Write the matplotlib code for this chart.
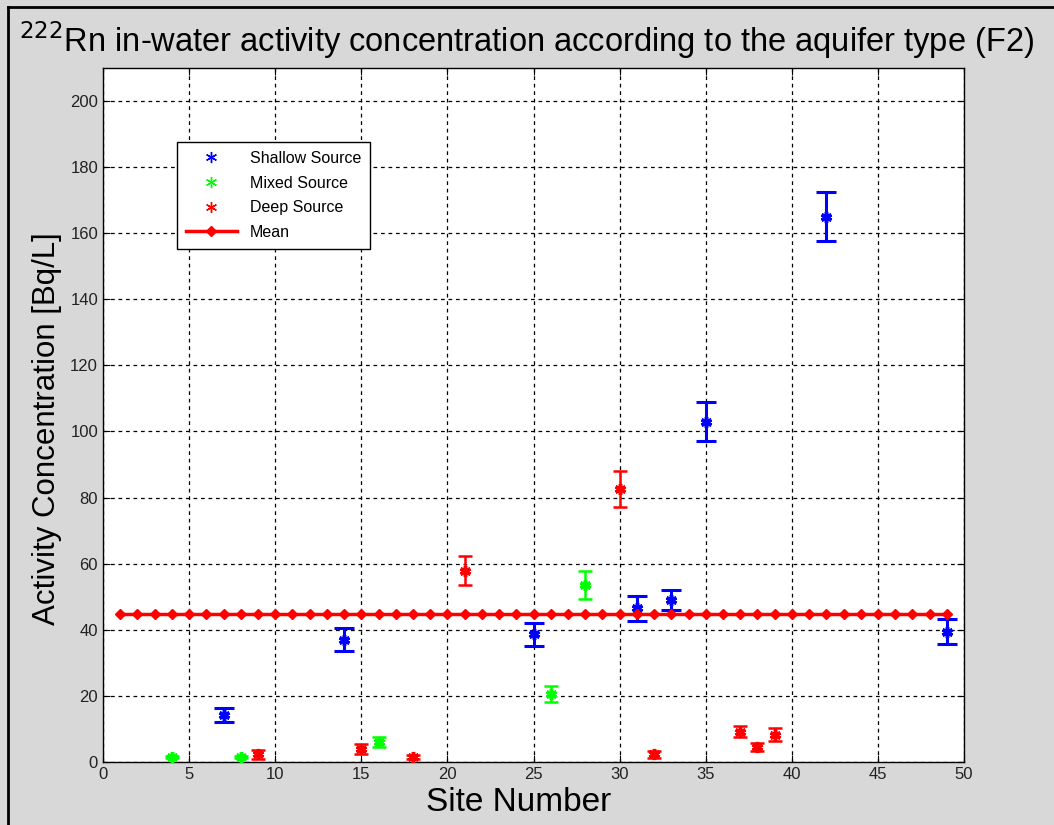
import matplotlib.pyplot as plt
import numpy as np
from matplotlib.lines import Line2D

plt.rcParams['font.family'] = ['Liberation Sans', 'DejaVu Sans']

# Shallow source sites
shallow_x = [7, 14, 25, 31, 33, 35, 42, 49]
shallow_y = [14.2, 37.0, 38.7, 46.5, 49.0, 103.0, 165.0, 39.4]
shallow_err = [2.2, 3.5, 3.5, 3.8, 3.0, 6.0, 7.5, 3.8]

# Mixed source sites
mixed_x = [4, 8, 16, 26, 28]
mixed_y = [1.5, 1.5, 6.0, 20.6, 53.6]
mixed_err = [0.4, 0.4, 1.6, 2.5, 4.2]

# Deep source sites
deep_x = [9, 15, 18, 21, 30, 32, 37, 38, 39]
deep_y = [2.3, 3.9, 1.4, 57.9, 82.6, 2.3, 9.2, 4.6, 8.2]
deep_err = [1.3, 1.4, 0.6, 4.5, 5.3, 1.0, 1.7, 1.2, 2.0]

mean_value = 44.8
mean_sites = list(range(1, 50))

bg = '#d8d8d8'
asterisk = (6, 2, 0)

fig = plt.figure(figsize=(10.54, 8.25), dpi=100, facecolor=bg)
ax = fig.add_axes([0.0977, 0.0764, 0.8170, 0.8412])

ax.errorbar(shallow_x, shallow_y, yerr=shallow_err, fmt='none', ecolor='blue',
            elinewidth=2.2, capsize=7, capthick=2.2, zorder=3)
ax.plot(shallow_x, shallow_y, linestyle='none', marker=asterisk, color='blue',
        markersize=8, markeredgewidth=2.5, zorder=4)

ax.errorbar(mixed_x, mixed_y, yerr=mixed_err, fmt='none', ecolor='#00ff00',
            elinewidth=1.8, capsize=5, capthick=1.8, zorder=3)
ax.plot(mixed_x, mixed_y, linestyle='none', marker=asterisk, color='#00ff00',
        markersize=8, markeredgewidth=2.5, zorder=4)

ax.errorbar(deep_x, deep_y, yerr=deep_err, fmt='none', ecolor='red',
            elinewidth=1.8, capsize=5, capthick=1.8, zorder=3)
ax.plot(deep_x, deep_y, linestyle='none', marker=asterisk, color='red',
        markersize=8, markeredgewidth=2.5, zorder=4)

ax.plot(mean_sites, [mean_value] * len(mean_sites), color='red', linewidth=2.5,
        marker='D', markersize=5.5, zorder=5)

ax.set_xlim(0, 50)
ax.set_ylim(0, 210)
ax.set_xticks(np.arange(0, 51, 5))
ax.set_yticks(np.arange(0, 201, 20))
ax.grid(True, color='black', linestyle=(0, (3, 3)), linewidth=0.9)
ax.set_axisbelow(True)
ax.tick_params(direction='in', top=True, right=True, labelsize=12, length=5,
               labelcolor='#222222')
for s in ax.spines.values():
    s.set_linewidth(1.0)

ax.set_xlabel('Site Number', fontsize=24)
ax.set_ylabel('Activity Concentration [Bq/L]', fontsize=22.5)
ax.xaxis.set_label_coords(0.4826, -0.036, transform=ax.transAxes)
ax.yaxis.set_label_coords(-0.048, 0.4805, transform=ax.transAxes)

fig.text(0.5, 0.951, r'$^{222}$Rn in-water activity concentration according to the aquifer type (F2)',
         ha='center', va='center', fontsize=23.5)

handles = [
    Line2D([], [], linestyle='none', marker=asterisk, color='blue', markersize=8),
    Line2D([], [], linestyle='none', marker=asterisk, color='#00ff00', markersize=8),
    Line2D([], [], linestyle='none', marker=asterisk, color='red', markersize=8),
    Line2D([], [], color='red', linewidth=2.5, marker='D', markersize=5.5),
]
labels = ['Shallow Source', 'Mixed Source', 'Deep Source', 'Mean']
leg = ax.legend(handles, labels, loc='upper left', bbox_to_anchor=(0.086, 0.893),
                fontsize=11.5, fancybox=False, framealpha=1, edgecolor='black',
                borderaxespad=0, handlelength=3.2, labelspacing=0.6,
                borderpad=0.55)
leg.get_frame().set_linewidth(1.0)

# screenshot border on the left and top
fig.add_artist(Line2D([0.008, 0.008], [0, 0.991], color='black', linewidth=2,
                      transform=fig.transFigure))
fig.add_artist(Line2D([0.008, 1.0], [0.991, 0.991], color='black', linewidth=2,
                      transform=fig.transFigure))

plt.savefig('out.png', dpi=100, facecolor=bg)
